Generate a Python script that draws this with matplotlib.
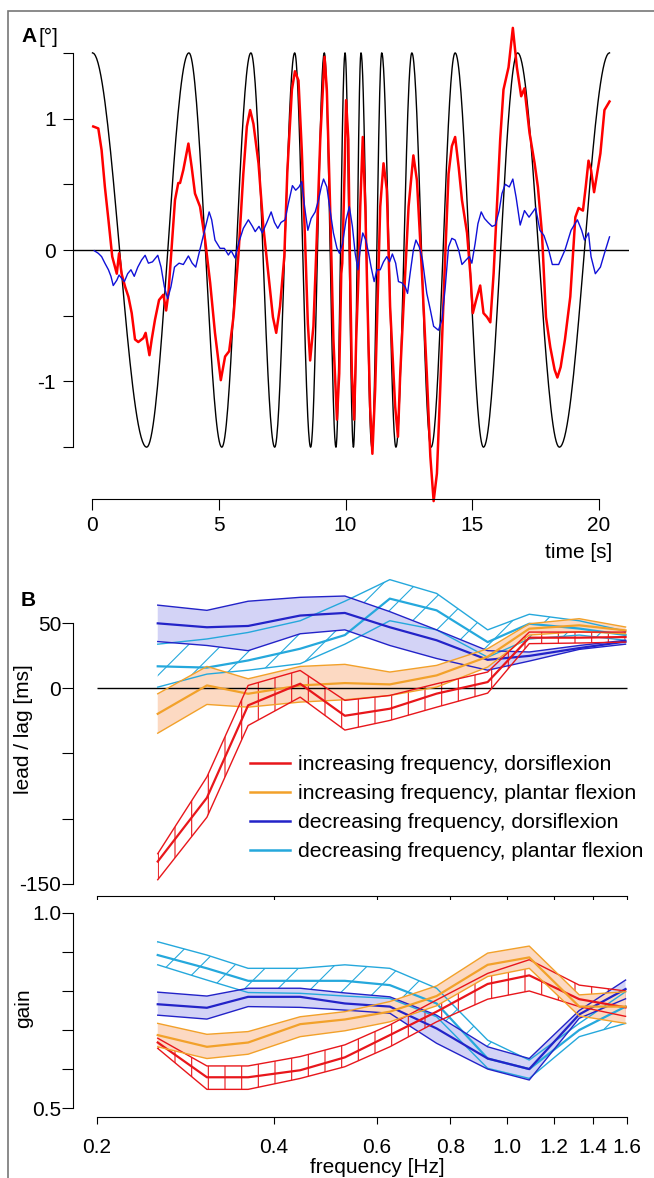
import matplotlib
matplotlib.use("Agg")
import matplotlib.pyplot as plt
import numpy as np
from matplotlib.patches import Rectangle

plt.rcParams['font.family'] = ['Liberation Sans', 'DejaVu Sans']
plt.rcParams['hatch.linewidth'] = 0.8

# ---------------- panel A: stimulus extrema and responses ----------------
stim_amp = 1.5
stim_ext_t = [0, 2.14, 3.81, 5.11, 6.26, 7.2, 7.99, 8.62, 9.16, 9.62, 9.98, 10.31,
              10.61, 11.04, 11.43, 11.99, 12.62, 13.38, 14.33, 15.45, 16.8, 18.45, 20.43]

red_t = [0.03, 0.23, 0.36, 0.49, 0.63, 0.78, 0.89, 0.96, 1.05, 1.15, 1.29, 1.42, 1.55,
         1.68, 1.81, 2.01, 2.1, 2.25, 2.34, 2.47, 2.63, 2.8, 2.91, 3.0, 3.13, 3.26, 3.39,
         3.46, 3.59, 3.79, 3.92, 4.05, 4.25, 4.45, 4.65, 4.84, 5.07, 5.24, 5.4, 5.57,
         5.77, 5.96, 6.1, 6.23, 6.36, 6.56, 6.75, 6.95, 7.13, 7.26, 7.41, 7.58, 7.7,
         7.88, 8.0, 8.14, 8.27, 8.4, 8.51, 8.6, 8.73, 8.86, 9.0, 9.17, 9.26, 9.39, 9.52,
         9.66, 9.75, 9.83, 9.87, 9.96, 10.02, 10.11, 10.18, 10.25, 10.34, 10.42, 10.51,
         10.58, 10.68, 10.78, 10.87, 10.97, 11.06, 11.17, 11.28, 11.37, 11.5, 11.63,
         11.76, 11.96, 12.07, 12.16, 12.29, 12.49, 12.68, 12.82, 13.02, 13.21, 13.35,
         13.48, 13.61, 13.74, 13.91, 14.07, 14.2, 14.33, 14.47, 14.6, 14.8, 14.93,
         15.03, 15.16, 15.32, 15.45, 15.59, 15.72, 15.85, 15.98, 16.11, 16.24, 16.44,
         16.61, 16.77, 16.94, 17.07, 17.27, 17.47, 17.6, 17.76, 17.92, 18.09, 18.26,
         18.37, 18.5, 18.67, 18.88, 19.08, 19.21, 19.38, 19.49, 19.6, 19.7, 19.82,
         19.94, 20.07, 20.23, 20.43]
red_v = [0.94, 0.925, 0.76, 0.48, 0.23, -0.05, -0.13, -0.18, -0.025, -0.18, -0.28,
         -0.355, -0.48, -0.68, -0.70, -0.67, -0.63, -0.80, -0.68, -0.53, -0.38, -0.34,
         -0.46, -0.33, 0.025, 0.38, 0.51, 0.51, 0.61, 0.81, 0.63, 0.43, 0.33, 0.076,
         -0.25, -0.63, -0.99, -0.81, -0.77, -0.51, -0.03, 0.58, 0.94, 1.065, 0.96, 0.66,
         0.18, -0.18, -0.51, -0.63, -0.43, -0.05, 0.6, 1.22, 1.36, 1.29, 0.76, 0.076,
         -0.56, -0.84, -0.58, 0.076, 0.84, 1.47, 1.22, 0.33, -0.68, -1.29, -0.94, -0.18,
         -0.1, 0.58, 1.14, 0.84, -0.18, -0.94, -1.29, -0.68, -0.2, 0.33, 0.86, 0.33,
         -0.43, -1.19, -1.55, -1.06, -0.30, 0.33, 0.66, 0.46, -0.43, -1.19, -1.42, -0.94,
         -0.43, 0.33, 0.72, 0.53, -0.18, -0.94, -1.57, -1.91, -1.70, -1.06, -0.18, 0.58,
         0.79, 0.86, 0.63, 0.38, 0.13, -0.18, -0.48, -0.38, -0.27, -0.48, -0.51, -0.55,
         -0.18, 0.33, 0.84, 1.22, 1.39, 1.69, 1.39, 1.17, 1.23, 0.89, 0.66, 0.48, 0.13,
         -0.51, -0.74, -0.91, -0.97, -0.89, -0.68, -0.355, 0.25, 0.32, 0.30, 0.48, 0.68,
         0.61, 0.44, 0.58, 0.735, 1.065, 1.13]

blue_t = [0.07, 0.23, 0.36, 0.49, 0.63, 0.73, 0.82, 0.96, 1.05, 1.15, 1.26, 1.39, 1.52,
          1.65, 1.79, 1.94, 2.08, 2.21, 2.37, 2.58, 2.71, 2.84, 2.97, 3.1, 3.24, 3.42,
          3.59, 3.79, 3.94, 4.08, 4.21, 4.34, 4.47, 4.61, 4.71, 4.84, 5.04, 5.21, 5.37,
          5.48, 5.63, 5.79, 5.96, 6.16, 6.32, 6.43, 6.58, 6.71, 6.89, 7.06, 7.19, 7.32,
          7.45, 7.61, 7.74, 7.9, 8.03, 8.16, 8.27, 8.38, 8.51, 8.64, 8.8, 8.93, 9.04,
          9.13, 9.26, 9.39, 9.52, 9.66, 9.76, 9.88, 10.02, 10.15, 10.27, 10.38, 10.49,
          10.59, 10.68, 10.8, 10.91, 11.01, 11.13, 11.24, 11.37, 11.5, 11.63, 11.74,
          11.85, 11.98, 12.09, 12.23, 12.36, 12.45, 12.55, 12.68, 12.78, 12.91, 13.04,
          13.21, 13.35, 13.48, 13.67, 13.81, 13.94, 14.07, 14.2, 14.33, 14.47, 14.6,
          14.76, 14.89, 14.99, 15.12, 15.23, 15.36, 15.49, 15.63, 15.79, 15.92, 16.07,
          16.18, 16.31, 16.47, 16.61, 16.74, 16.9, 17.07, 17.25, 17.51, 17.68, 17.84,
          18.01, 18.17, 18.42, 18.67, 18.91, 19.16, 19.33, 19.44, 19.6, 19.7, 19.87,
          20.07, 20.23, 20.43]
blue_v = [-0.005, -0.025, -0.05, -0.10, -0.15, -0.20, -0.27, -0.23, -0.19, -0.215, -0.24,
          -0.18, -0.15, -0.20, -0.13, -0.076, -0.04, -0.10, -0.09, -0.04, -0.13, -0.28,
          -0.37, -0.28, -0.13, -0.10, -0.11, -0.045, -0.10, -0.13, -0.025, 0.076, 0.18,
          0.29, 0.23, 0.076, 0.013, 0.013, -0.038, -0.005, -0.06, 0.063, 0.165, 0.23,
          0.18, 0.14, 0.18, 0.13, 0.21, 0.29, 0.21, 0.165, 0.21, 0.23, 0.355, 0.49,
          0.455, 0.48, 0.52, 0.33, 0.15, 0.24, 0.29, 0.38, 0.48, 0.54, 0.48, 0.30, 0.13,
          0.013, -0.025, 0.05, 0.23, 0.33, 0.18, -0.025, -0.15, 0.025, 0.13, 0.076,
          -0.025, -0.13, -0.24, -0.15, -0.15, -0.09, -0.05, -0.09, -0.03, -0.10, -0.24,
          -0.25, -0.28, -0.33, -0.18, 0.0, 0.076, 0.025, -0.076, -0.33, -0.455, -0.58,
          -0.61, -0.53, -0.28, 0.025, 0.089, 0.076, 0.0, -0.11, -0.076, -0.05, -0.10,
          0.05, 0.20, 0.29, 0.24, 0.21, 0.18, 0.19, 0.30, 0.43, 0.50, 0.48, 0.54, 0.40,
          0.19, 0.30, 0.25, 0.32, 0.15, 0.11, 0.013, -0.11, -0.11, 0.0, 0.15, 0.23, 0.15,
          0.076, 0.13, -0.05, -0.18, -0.13, -0.025, 0.10]

# ---------------- panel B: lead/lag and gain ----------------
freq = [0.254, 0.308, 0.362, 0.444, 0.529, 0.631, 0.758, 0.926, 1.09, 1.326, 1.59]

lag_inc_dorsi = [-133, -84, -13, 3.6, -21, -15.6, -4, 4.9, 39, 39, 39.5]
lag_inc_dorsi_lo = [-147, -99, -28.5, -6.7, -32, -24.6, -14.4, -3.6, 34.4, 34.9, 35.6]
lag_inc_dorsi_hi = [-127, -68, 2.3, 13.8, -9.2, -5.4, 3.6, 12.6, 43.3, 43.3, 43.3]

lag_inc_plant = [-19.5, 2.3, -4.1, 2.3, 4.1, 3.1, 10, 24.4, 45.9, 48.5, 44.6]
lag_inc_plant_lo = [-34.4, -12.3, -14.4, -10.5, -8.7, -5.4, 1, 16.4, 41, 43.6, 42]
lag_inc_plant_hi = [-4.1, 16.9, 7.4, 16.9, 18.5, 12.6, 17.7, 30.5, 49.7, 53.6, 47.2]

lag_dec_dorsi = [50, 47, 48, 56, 58, 47, 37, 22, 25, 31, 36]
lag_dec_dorsi_lo = [36, 33, 29, 42, 45, 33, 23, 14, 21, 30, 34]
lag_dec_dorsi_hi = [64, 60, 67, 70, 71, 59, 45, 29, 28, 33, 37]

lag_dec_plant = [17, 16, 21.5, 30.5, 41, 69, 60, 35.6, 49.7, 46, 41]
lag_dec_plant_lo = [1, 11, 14, 19, 34, 52, 45, 24, 38, 41, 37]
lag_dec_plant_hi = [34, 38, 43, 52, 67, 83.6, 73, 45, 57, 52, 44]

gain_inc_dorsi = [0.668, 0.579, 0.579, 0.597, 0.63, 0.687, 0.747, 0.818, 0.84, 0.779, 0.758]
gain_inc_dorsi_lo = [0.653, 0.548, 0.548, 0.576, 0.606, 0.657, 0.721, 0.779, 0.80, 0.76, 0.735]
gain_inc_dorsi_hi = [0.679, 0.608, 0.608, 0.632, 0.662, 0.713, 0.777, 0.845, 0.88, 0.815, 0.80]

gain_inc_plant = [0.687, 0.657, 0.668, 0.715, 0.727, 0.747, 0.787, 0.867, 0.886, 0.76, 0.76]
gain_inc_plant_lo = [0.657, 0.627, 0.638, 0.683, 0.698, 0.721, 0.762, 0.837, 0.858, 0.736, 0.717]
gain_inc_plant_hi = [0.717, 0.689, 0.696, 0.734, 0.747, 0.773, 0.813, 0.897, 0.915, 0.79, 0.798]

gain_dec_dorsi = [0.766, 0.757, 0.785, 0.785, 0.768, 0.76, 0.704, 0.627, 0.600, 0.74, 0.805]
gain_dec_dorsi_lo = [0.738, 0.728, 0.760, 0.758, 0.751, 0.743, 0.666, 0.600, 0.572, 0.73, 0.78]
gain_dec_dorsi_hi = [0.797, 0.787, 0.807, 0.807, 0.795, 0.785, 0.738, 0.657, 0.627, 0.75, 0.828]

gain_dec_plant = [0.892, 0.858, 0.826, 0.826, 0.826, 0.815, 0.768, 0.627, 0.600, 0.70, 0.76]
gain_dec_plant_lo = [0.867, 0.828, 0.796, 0.794, 0.787, 0.781, 0.734, 0.602, 0.576, 0.683, 0.717]
gain_dec_plant_hi = [0.926, 0.892, 0.858, 0.858, 0.867, 0.858, 0.807, 0.674, 0.623, 0.717, 0.798]

labels = ["increasing frequency, dorsiflexion", "increasing frequency, plantar flexion",
          "decreasing frequency, dorsiflexion", "decreasing frequency, plantar flexion"]

freq_ticks = [0.2, 0.4, 0.6, 0.8, 1.0, 1.2, 1.4, 1.6]

RED = '#e8161b'
ORANGE = '#f2a12a'
DBLUE = '#2323c8'
CYAN = '#25a8dc'
W, H = 654, 1178
FS = 15


def fx(x):
    return x / W


def fy(y):
    return 1 - y / H


fig = plt.figure(figsize=(W / 100, H / 100), dpi=100)

# ---- A ----
axA = fig.add_axes([fx(73), fy(499), fx(629 - 73), (499 - 20) / H])
# stimulus: half-cosine between the read extrema
st, sv = [], []
for i in range(len(stim_ext_t) - 1):
    t0, t1 = stim_ext_t[i], stim_ext_t[i + 1]
    sgn = 1 if i % 2 == 0 else -1
    tt = np.linspace(t0, t1, 40)
    st.extend(tt)
    sv.extend(sgn * stim_amp * np.cos(np.pi * (tt - t0) / (t1 - t0)))
axA.axhline(0, color='black', lw=1.0)
axA.plot(st, sv, color='black', lw=1.0)
axA.plot(red_t, red_v, color='#ff0000', lw=1.8, clip_on=False)
axA.plot(blue_t, blue_v, color='#1010d8', lw=1.0)
axA.set_xlim(-0.77, 21.2)
axA.set_ylim(-1.894, 1.75)
for s in ['top', 'right']:
    axA.spines[s].set_visible(False)
axA.spines['left'].set_bounds(-1.5, 1.5)
axA.spines['bottom'].set_bounds(0, 20)
axA.set_yticks([-1.5, -1, -0.5, 0, 0.5, 1, 1.5])
axA.set_yticklabels(['', '-1', '', '0', '', '1', ''])
axA.set_xticks([0, 5, 10, 15, 20])
axA.tick_params(axis='y', length=7.5, pad=5, labelsize=FS)
axA.tick_params(axis='x', length=8, pad=4.5, labelsize=FS)
fig.text(fx(612), fy(552), 'time [s]', ha='right', va='center', fontsize=FS)
fig.text(fx(21), fy(37), 'A', fontweight='bold', ha='left', va='center', fontsize=FS)
fig.text(fx(38), fy(37), '[°]', ha='left', va='center', fontsize=FS)


def band(ax, mean, lo, hi, color, fill=None, hatch=None):
    if fill is not None:
        ax.fill_between(freq, lo, hi, facecolor=fill, edgecolor='none', lw=0)
    else:
        ax.fill_between(freq, lo, hi, facecolor='none', edgecolor=color, hatch=hatch, lw=0)
    ax.plot(freq, lo, color=color, lw=1.0)
    ax.plot(freq, hi, color=color, lw=1.0)
    return ax.plot(freq, mean, color=color, lw=1.6)[0]


def freq_axis(ax, labels_on):
    ax.set_xscale('log')
    ax.set_xlim(0.1822, 1.65)
    for s in ['top', 'right']:
        ax.spines[s].set_visible(False)
    ax.spines['bottom'].set_bounds(0.2, 1.6)
    ax.set_xticks(freq_ticks)
    ax.xaxis.set_minor_locator(matplotlib.ticker.NullLocator())
    if labels_on:
        ax.set_xticklabels(['%.1f' % f for f in freq_ticks])
    else:
        ax.set_xticklabels([])
    ax.tick_params(axis='x', length=5, pad=10.5, labelsize=FS)
    ax.tick_params(axis='y', length=8, pad=0.5, labelsize=FS)


# ---- B: lead / lag ----
axB = fig.add_axes([fx(73), fy(896), fx(635 - 73), (896 - 571.3) / H])
axB.hlines(0, 0.2, 1.6, color='black', lw=1.0)
hc = band(axB, lag_dec_plant, lag_dec_plant_lo, lag_dec_plant_hi, CYAN, hatch='/')
hb = band(axB, lag_dec_dorsi, lag_dec_dorsi_lo, lag_dec_dorsi_hi, DBLUE, fill='#d3d3f6')
ho = band(axB, lag_inc_plant, lag_inc_plant_lo, lag_inc_plant_hi, ORANGE, fill='#fcd9c2')
hr = band(axB, lag_inc_dorsi, lag_inc_dorsi_lo, lag_inc_dorsi_hi, RED, hatch='|')
freq_axis(axB, False)
axB.set_ylim(-159.5, 90)
axB.spines['left'].set_bounds(-150, 50)
axB.set_yticks([-150, -100, -50, 0, 50])
axB.set_yticklabels(['-150', '', '', '0', '50'])
axB.set_ylabel('lead / lag [ms]', fontsize=FS)
axB.yaxis.set_label_coords(-(73 - 33) / (635 - 73), (896 - 729) / (896 - 571.3))
fig.text(fx(21), fy(601), 'B', fontweight='bold', ha='left', va='center', fontsize=FS)

leg = fig.legend([hr, ho, hb, hc], labels, loc='upper left',
                 bbox_to_anchor=(fx(250), fy(755)), frameon=False, fontsize=15.3,
                 handlelength=1.9, handletextpad=0.35, labelspacing=0.47,
                 borderpad=0, borderaxespad=0)
for ln in leg.get_lines():
    ln.set_linewidth(1.8)

# ---- gain ----
axC = fig.add_axes([fx(73), fy(1116.7), fx(635 - 73), (1116.7 - 900) / H])
band(axC, gain_dec_plant, gain_dec_plant_lo, gain_dec_plant_hi, CYAN, hatch='/')
band(axC, gain_dec_dorsi, gain_dec_dorsi_lo, gain_dec_dorsi_hi, DBLUE, fill='#d3d3f6')
band(axC, gain_inc_dorsi, gain_inc_dorsi_lo, gain_inc_dorsi_hi, RED, hatch='|')
band(axC, gain_inc_plant, gain_inc_plant_lo, gain_inc_plant_hi, ORANGE, fill='#fcd9c2')
freq_axis(axC, True)
axC.set_ylim(0.478, 1.033)
axC.spines['left'].set_bounds(0.5, 1.0)
axC.set_yticks([0.5, 0.6, 0.7, 0.8, 0.9, 1.0])
axC.set_yticklabels(['0.5', '', '', '', '', '1.0'])
axC.set_ylabel('gain', fontsize=FS)
axC.yaxis.set_label_coords(-(73 - 33) / (635 - 73), 0.5)
fig.text(fx(377), fy(1173), 'frequency [Hz]', ha='center', va='baseline', fontsize=FS)

# outer frame
fig.patches.append(Rectangle((fx(8), -0.1), 1.2, fy(11) + 0.1, transform=fig.transFigure,
                             fill=False, edgecolor='#777777', lw=1.2))

fig.savefig('out.png', dpi=100)
